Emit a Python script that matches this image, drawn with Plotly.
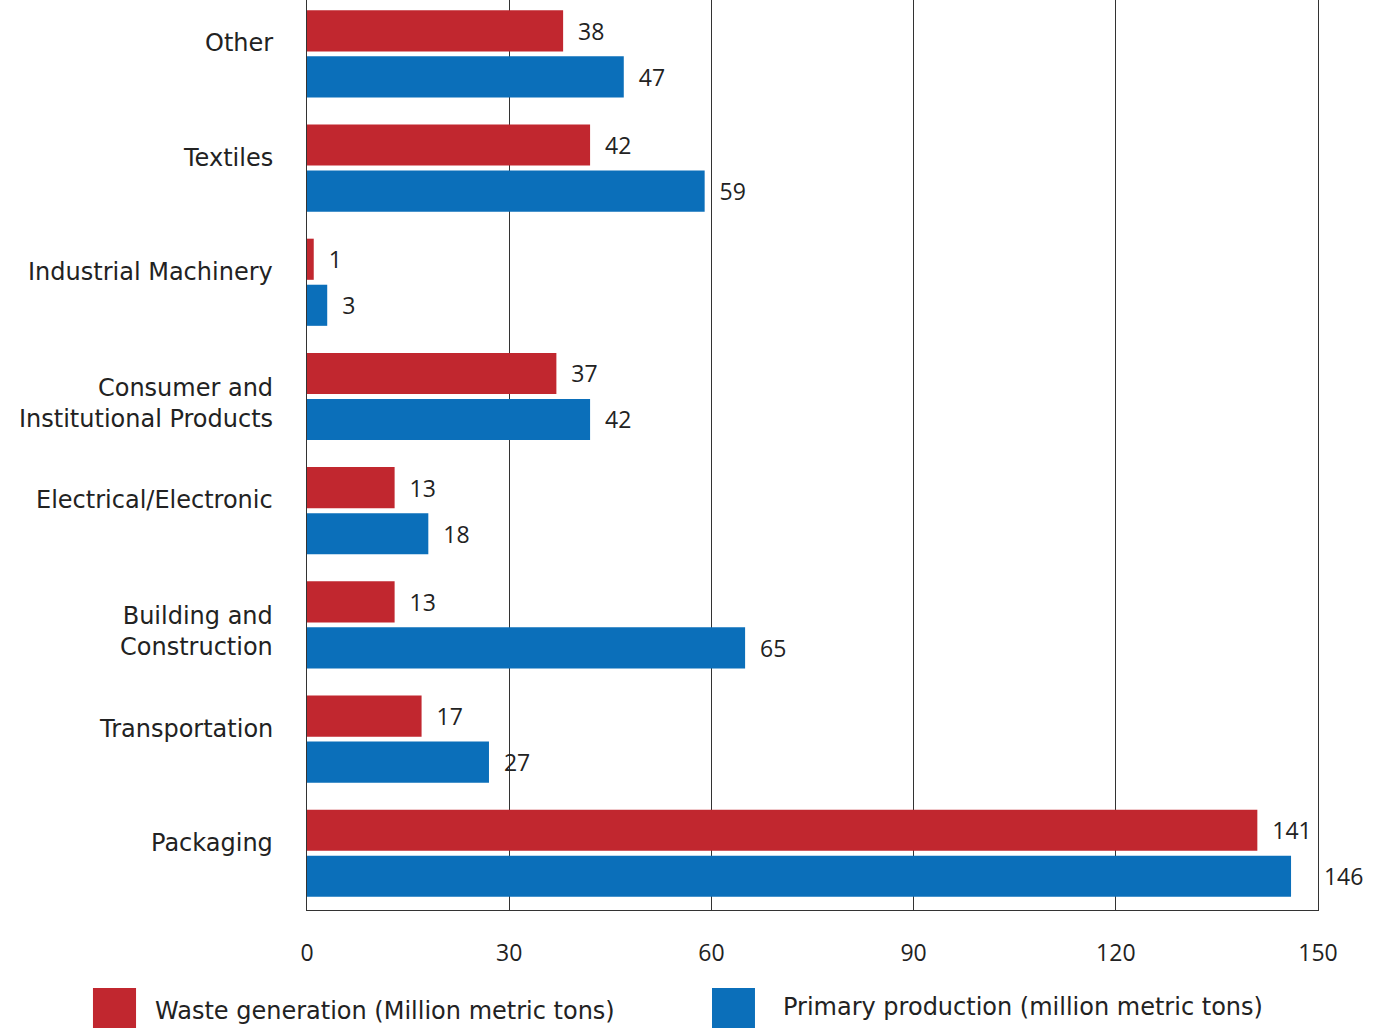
import plotly.graph_objects as go

categories = ["Packaging", "Transportation", "Building and<br>Construction",
              "Electrical/Electronic", "Consumer and<br>Institutional Products",
              "Industrial Machinery", "Textiles", "Other"]
waste = [141, 17, 13, 13, 37, 1, 42, 38]
production = [146, 27, 65, 18, 42, 3, 59, 47]
x_ticks = [0, 30, 60, 90, 120, 150]
legend_labels = ["Waste generation (Million metric tons)",
                 "Primary production (million metric tons)"]

RED = "#C1272F"
BLUE = "#0B6FBA"
TXT = "#222222"
LABEL_FONT = "DejaVu Sans"
NUM_FONT = "Open Sans"
X_MAX = 150


def label_templates(values):
    # labels sit just past the bar end; push them past the right frame line
    # when the bar nearly reaches it
    out = []
    for v in values:
        pad = 5 if v > X_MAX - 5 else 2
        out.append("\u00a0" * pad + "%{x}")
    return out


fig = go.Figure()
fig.add_trace(go.Bar(
    y=categories, x=waste, orientation="h", name=legend_labels[0],
    marker=dict(color=RED, line=dict(width=0)),
    width=0.36, offset=0.018,
    texttemplate=label_templates(waste), textposition="outside",
    textfont=dict(family=NUM_FONT, size=23, color=TXT),
    cliponaxis=False, constraintext="none", showlegend=False,
))
fig.add_trace(go.Bar(
    y=categories, x=production, orientation="h", name=legend_labels[1],
    marker=dict(color=BLUE, line=dict(width=0)),
    width=0.36, offset=-0.385,
    texttemplate=label_templates(production), textposition="outside",
    textfont=dict(family=NUM_FONT, size=23, color=TXT),
    cliponaxis=False, constraintext="none", showlegend=False,
))

shapes = []
annotations = []

# category labels on the left
for cat in categories:
    two_line = "<br>" in cat
    annotations.append(dict(xref="paper", yref="y", x=0, y=cat,
                            xanchor="right", yanchor="middle", align="right",
                            xshift=-32, yshift=(-7 if two_line else 10),
                            text=cat, showarrow=False,
                            font=dict(family=LABEL_FONT, size=24, color=TXT)))

# legend
leg = [(RED, -0.2117, -0.1691, -0.1523, legend_labels[0], -0.111),
       (BLUE, 0.4006, 0.4431, 0.4688, legend_labels[1], -0.107)]
for color, x0, x1, xt, label, yt in leg:
    shapes.append(dict(type="rect", xref="paper", yref="paper",
                       x0=x0, x1=x1, y0=-0.0857, y1=-0.135,
                       fillcolor=color, line=dict(width=0), layer="above"))
    annotations.append(dict(xref="paper", yref="paper", x=xt, y=yt,
                            text=label, showarrow=False, xanchor="left",
                            yanchor="middle",
                            font=dict(family=LABEL_FONT, size=24, color=TXT)))

fig.update_layout(
    width=1377, height=1028,
    margin=dict(l=307, r=59, t=0, b=118),
    plot_bgcolor="white", paper_bgcolor="white",
    barmode="overlay",
    shapes=shapes, annotations=annotations,
    xaxis=dict(range=[0, X_MAX], tickvals=x_ticks, ticks="", showgrid=True,
               gridcolor="#333333", gridwidth=1, zeroline=False,
               showline=True, linecolor="#333333", linewidth=1,
               ticklabelstandoff=22,
               tickfont=dict(family=NUM_FONT, size=23, color=TXT)),
    yaxis=dict(range=[-0.5, 7.468], showgrid=False, zeroline=False,
               showline=True, mirror=True, linecolor="#333333", linewidth=1,
               ticks="", showticklabels=False),
)

fig.write_html("out.html")
